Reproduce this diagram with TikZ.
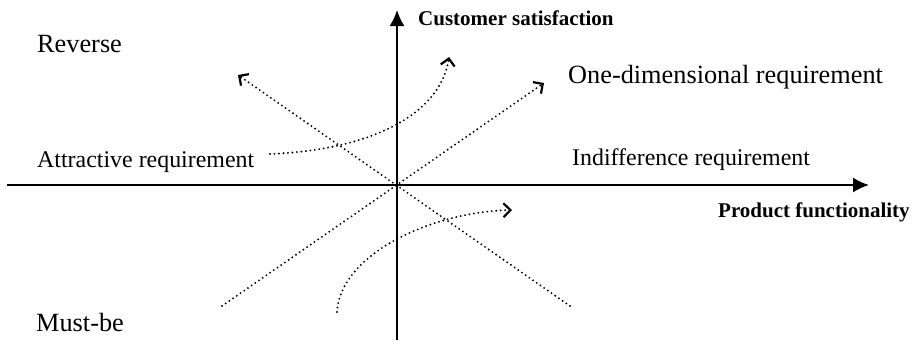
\documentclass[tikz,border=0pt]{standalone}
\usepackage{fontspec}
\setmainfont{Liberation Serif}
\usetikzlibrary{arrows.meta}
\begin{document}
\begin{tikzpicture}[x=1pt,y=-1pt,
  axis/.style={line width=2pt,-{Latex[length=16pt,width=15pt]}},
  dotline/.style={line width=2.1pt,dash pattern=on 0pt off 4.5pt,line cap=round},
  barb/.style={-{Straight Barb[length=7pt,width=14pt,line width=2.2pt]}},
  big/.style={anchor=base west,inner sep=0pt,font=\fontsize{26.3}{30}\selectfont},
  mid/.style={anchor=base west,inner sep=0pt,font=\fontsize{23.9}{28}\selectfont},
  lab/.style={anchor=base west,inner sep=0pt,font=\fontsize{21}{24}\selectfont\bfseries}]
\useasboundingbox (0,0) rectangle (917,351);
\coordinate (O) at (397,185);
\coordinate (xs) at (7,185);
\coordinate (xe) at (869,185);
\coordinate (ys) at (397,340);
\coordinate (ye) at (397,10);
\draw[axis] (xs) -- (xe);
\draw[axis] (ys) -- (ye);
\node[lab] (cs) at (418,25) {Customer satisfaction};
\node[lab] (pf) at (718,217) {Product functionality};
\node[big] (rev) at (37,52) {Reverse};
\node[big] (one) at (568,83) {One-dimensional requirement};
\node[mid] (att) at (37,167) {Attractive requirement};
\node[mid] (ind) at (572,165) {Indifference requirement};
\node[big] (must) at (36,331) {Must-be};
% dotted curves
\coordinate (r1) at (570,306);
\coordinate (r2) at (238,75);
\coordinate (o1) at (222,306);
\coordinate (o2) at (544,83);
\coordinate (a1) at (270,154);
\coordinate (a2) at (449,57);
\coordinate (m1) at (337,312);
\coordinate (m2) at (512,210);
\draw[dotline,barb] (r1) -- (r2);
\draw[dotline,barb] (o1) -- (o2);
\draw[dotline,barb] (a1) .. controls (370,150) and (440,115) .. (a2);
\draw[dotline,barb] (m1) .. controls (340,255) and (430,212) .. (m2);
\end{tikzpicture}
\end{document}
